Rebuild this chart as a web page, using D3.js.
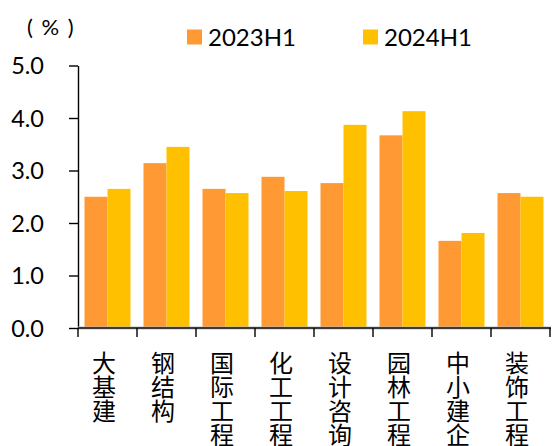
<!DOCTYPE html>
<html>
<head>
<meta charset="utf-8">
<script src="https://cdn.jsdelivr.net/npm/d3@7"></script>
<style>
  html, body { margin: 0; padding: 0; background: #fff; }
  svg { display: block; }
</style>
</head>
<body>
<svg id="chart" width="556" height="446"></svg>
<script>
// Categories and series values (%)
const categories = ["大基建", "钢结构", "国际工程", "化工工程", "设计咨询", "园林工程", "中小建企", "装饰工程"];
const seriesNames = ["2023H1", "2024H1"];
const values2023H1 = [2.50, 3.14, 2.65, 2.88, 2.76, 3.67, 1.66, 2.57];
const values2024H1 = [2.65, 3.45, 2.57, 2.61, 3.87, 4.13, 1.81, 2.50];
const yTicks = [0, 1, 2, 3, 4, 5];
const unitLabel = "( % )";

const colors = ["#FF9933", "#FFC000"];
const numFont = "Lato, 'Open Sans', sans-serif";
const cjkFont = "'Noto Sans CJK SC', sans-serif";

const svg = d3.select("#chart");
const plotLeft = 78, plotRight = 550, plotTop = 65.5, plotBottom = 328;

const x = d3.scaleBand().domain(categories).range([plotLeft, plotRight]).padding(0);
const xs = d3.scaleBand().domain(seriesNames).range([6.5, x.bandwidth() - 6.5]).padding(0);
const y = d3.scaleLinear().domain([0, 5]).range([plotBottom, plotTop]);

const rows = categories.map((c, i) => ({ cat: c, vals: [values2023H1[i], values2024H1[i]] }));

// Bars
const groups = svg.append("g").selectAll("g").data(rows).join("g")
  .attr("transform", d => `translate(${x(d.cat)},0)`);
groups.selectAll("rect")
  .data(d => d.vals.map((v, k) => ({ name: seriesNames[k], v, k })))
  .join("rect")
  .attr("x", d => xs(d.name))
  .attr("width", xs.bandwidth())
  .attr("y", d => y(d.v))
  .attr("height", d => y(0) - y(d.v))
  .attr("fill", d => colors[d.k]);

// Y axis
const yAxis = svg.append("g").attr("transform", `translate(${plotLeft},0)`)
  .call(d3.axisLeft(y).tickValues(yTicks).tickFormat(d3.format(".1f")).tickSize(9).tickSizeOuter(0));
yAxis.select(".domain").attr("stroke", "#000").attr("stroke-width", 1.4);
yAxis.selectAll(".tick line").attr("stroke", "#000").attr("stroke-width", 1.4);
yAxis.selectAll(".tick text")
  .attr("x", -34).attr("dy", "0.36em")
  .attr("font-family", numFont).attr("font-size", 23.5).attr("fill", "#000");

// X axis with ticks at category boundaries
const xAxis = svg.append("g").attr("transform", `translate(0,${plotBottom})`);
xAxis.append("line").attr("x1", plotLeft).attr("x2", plotRight + 1)
  .attr("stroke", "#bbb").attr("stroke-width", 3);
xAxis.append("line").attr("x1", plotLeft).attr("x2", plotRight + 1)
  .attr("stroke", "#111").attr("stroke-width", 1.4);
const bounds = categories.map(c => x(c)).concat([plotRight]);
xAxis.selectAll("line.tk").data(bounds).join("line").attr("class", "tk")
  .attr("x1", d => d).attr("x2", d => d).attr("y1", 0).attr("y2", 9)
  .attr("stroke", "#000").attr("stroke-width", 1.4);

// Vertical category labels
const labels = svg.append("g").selectAll("text").data(categories).join("text")
  .attr("font-family", cjkFont).attr("font-size", 24).attr("fill", "#000")
  .attr("text-anchor", "middle");
labels.each(function (c) {
  const t = d3.select(this);
  Array.from(c).forEach((ch, i) => {
    t.append("tspan")
      .attr("x", x(c) + x.bandwidth() / 2 - 3.5)
      .attr("y", 372 + i * 24)
      .text(ch);
  });
});

// Unit label
svg.append("text").attr("x", 51).attr("y", 35)
  .attr("text-anchor", "middle").attr("font-family", numFont).attr("font-size", 22)
  .attr("letter-spacing", 1.5).attr("fill", "#000").text(unitLabel);

// Legend
const legendX = [187, 363];
const legend = svg.append("g").selectAll("g").data(seriesNames).join("g")
  .attr("transform", (d, i) => `translate(${legendX[i]},29.5)`);
legend.append("rect").attr("width", 15).attr("height", 15).attr("fill", (d, i) => colors[i]);
legend.append("text").attr("x", 21).attr("y", 16.5)
  .attr("font-family", numFont).attr("font-size", 24).attr("fill", "#000").text(d => d);
</script>
</body>
</html>
